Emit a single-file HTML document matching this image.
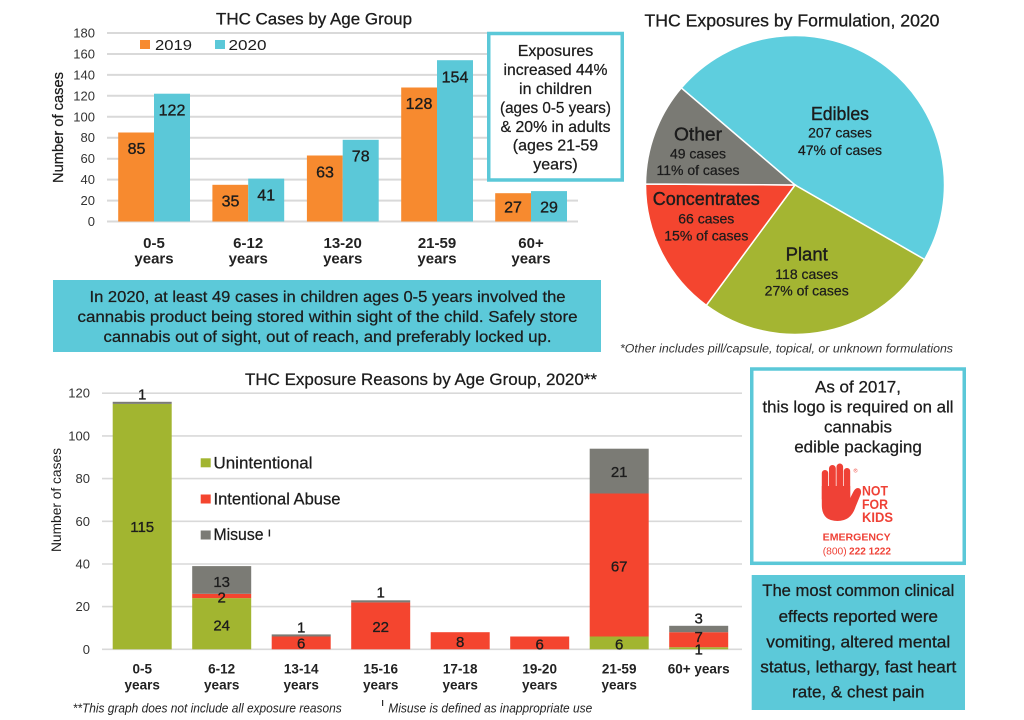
<!DOCTYPE html>
<html><head><meta charset="utf-8"><style>
html,body{margin:0;padding:0;background:#fff;}
svg{display:block;}
text{font-family:"Liberation Sans",sans-serif;}
</style></head><body>
<svg width="1024" height="720" viewBox="0 0 1024 720" xmlns="http://www.w3.org/2000/svg" fill="#1c1c1c">
<rect width="1024" height="720" fill="#fff"/>

<!-- ============ TOP CHART ============ -->
<text x="314" y="24.5" font-size="17" text-anchor="middle" textLength="196" lengthAdjust="spacingAndGlyphs" stroke="#1c1c1c" stroke-width="0.3">THC Cases by Age Group</text>
<g stroke="#d9d9d9" stroke-width="2">
<line x1="107" y1="33" x2="578" y2="33"/>
<line x1="107" y1="54" x2="578" y2="54"/>
<line x1="107" y1="74.9" x2="578" y2="74.9"/>
<line x1="107" y1="95.8" x2="578" y2="95.8"/>
<line x1="107" y1="116.8" x2="578" y2="116.8"/>
<line x1="107" y1="137.7" x2="578" y2="137.7"/>
<line x1="107" y1="158.7" x2="578" y2="158.7"/>
<line x1="107" y1="179.6" x2="578" y2="179.6"/>
<line x1="107" y1="200.6" x2="578" y2="200.6"/>
<line x1="107" y1="221.5" x2="578" y2="221.5"/>
</g>
<g font-size="13" text-anchor="end" fill="#333">
<text x="95" y="37.5">180</text>
<text x="95" y="58.5">160</text>
<text x="95" y="79.4">140</text>
<text x="95" y="100.3">120</text>
<text x="95" y="121.3">100</text>
<text x="95" y="142.2">80</text>
<text x="95" y="163.2">60</text>
<text x="95" y="184.1">40</text>
<text x="95" y="205.1">20</text>
<text x="95" y="226">0</text>
</g>
<text transform="translate(63,127.5) rotate(-90)" font-size="15" text-anchor="middle" textLength="111" lengthAdjust="spacingAndGlyphs" stroke="#1c1c1c" stroke-width="0.25">Number of cases</text>

<!-- legend -->
<rect x="140" y="40" width="10" height="9" fill="#f78a2f"/>
<text x="155" y="50" font-size="15" textLength="37" lengthAdjust="spacingAndGlyphs">2019</text>
<rect x="215" y="40" width="10" height="9" fill="#5bc8d8"/>
<text x="228.5" y="50" font-size="15" textLength="38" lengthAdjust="spacingAndGlyphs">2020</text>

<!-- bars -->
<g fill="#f78a2f">
<rect x="118.2" y="132.5" width="35.8" height="89"/>
<rect x="212.4" y="184.8" width="35.8" height="36.7"/>
<rect x="306.9" y="155.5" width="35.8" height="66"/>
<rect x="401.2" y="87.5" width="35.8" height="134"/>
<rect x="495.2" y="193.2" width="35.8" height="28.3"/>
</g>
<g fill="#5bc8d8">
<rect x="154" y="93.7" width="36" height="127.8"/>
<rect x="248.2" y="178.6" width="36" height="42.9"/>
<rect x="342.7" y="139.8" width="36" height="81.7"/>
<rect x="437" y="60.2" width="36" height="161.3"/>
<rect x="531" y="191.1" width="36" height="30.4"/>
</g>
<g font-size="16" text-anchor="middle" stroke="#1c1c1c" stroke-width="0.35">
<text x="136.5" y="154">85</text>
<text x="172" y="115.5">122</text>
<text x="230.5" y="206.5">35</text>
<text x="266.2" y="200.5">41</text>
<text x="325" y="177.5">63</text>
<text x="360.7" y="161.5">78</text>
<text x="419" y="109">128</text>
<text x="455" y="82.5">154</text>
<text x="513" y="212.5">27</text>
<text x="549" y="212.5">29</text>
</g>
<g font-size="15" font-weight="bold" text-anchor="middle" fill="#222">
<text x="154" y="248">0-5</text><text x="154" y="263.5">years</text>
<text x="248.2" y="248">6-12</text><text x="248.2" y="263.5">years</text>
<text x="342.7" y="248">13-20</text><text x="342.7" y="263.5">years</text>
<text x="437" y="248">21-59</text><text x="437" y="263.5">years</text>
<text x="531" y="248">60+</text><text x="531" y="263.5">years</text>
</g>

<!-- exposures box -->
<rect x="488.75" y="33.5" width="133.5" height="146.5" fill="#fff" stroke="#5bc8d8" stroke-width="3.5"/>
<g font-size="16" text-anchor="middle" stroke="#1c1c1c" stroke-width="0.25">
<text x="555.5" y="56.2">Exposures</text>
<text x="555.5" y="75.1" textLength="104" lengthAdjust="spacingAndGlyphs">increased 44%</text>
<text x="555.5" y="94">in children</text>
<text x="555.5" y="112.9" textLength="111" lengthAdjust="spacingAndGlyphs">(ages 0-5 years)</text>
<text x="555.5" y="131.8" textLength="110" lengthAdjust="spacingAndGlyphs">&amp; 20% in adults</text>
<text x="555.5" y="150.7">(ages 21-59</text>
<text x="555.5" y="169.6">years)</text>
</g>

<!-- note box -->
<rect x="53" y="280" width="548" height="72" fill="#5cc9d9"/>
<g font-size="16" text-anchor="middle" stroke="#1c1c1c" stroke-width="0.25">
<text x="327.5" y="302" textLength="476" lengthAdjust="spacingAndGlyphs">In 2020, at least 49 cases in children ages 0-5 years involved the</text>
<text x="327.5" y="322" textLength="500" lengthAdjust="spacingAndGlyphs">cannabis product being stored within sight of the child. Safely store</text>
<text x="327.5" y="342" textLength="448" lengthAdjust="spacingAndGlyphs">cannabis out of sight, out of reach, and preferably locked up.</text>
</g>

<!-- ============ PIE ============ -->
<text x="792" y="26.7" font-size="17.6" text-anchor="middle" textLength="295" lengthAdjust="spacingAndGlyphs" stroke="#1c1c1c" stroke-width="0.3">THC Exposures by Formulation, 2020</text>
<g stroke="#fff" stroke-width="1.5">
<path d="M795,185 L681.3,87.9 A149.5,149.5 0 0 1 924.6,259.5 Z" fill="#5ecede"/>
<path d="M795,185 L924.6,259.5 A149.5,149.5 0 0 1 706.3,305.3 Z" fill="#a4b532"/>
<path d="M795,185 L706.3,305.3 A149.5,149.5 0 0 1 645.5,184 Z" fill="#f4452f"/>
<path d="M795,185 L645.5,184 A149.5,149.5 0 0 1 681.3,87.9 Z" fill="#7a7a74"/>
</g>
<g text-anchor="middle" stroke="#1c1c1c" stroke-width="0.25">
<text x="840" y="120" font-size="18.5" textLength="58" lengthAdjust="spacingAndGlyphs" stroke-width="0.4">Edibles</text>
<text x="840" y="137.7" font-size="14">207 cases</text>
<text x="840" y="155" font-size="14">47% of cases</text>
<text x="698" y="140.7" font-size="18" textLength="48" lengthAdjust="spacingAndGlyphs" stroke-width="0.4">Other</text>
<text x="698" y="158.3" font-size="14">49 cases</text>
<text x="698" y="175" font-size="14">11% of cases</text>
<text x="706.3" y="205" font-size="18" textLength="107" lengthAdjust="spacingAndGlyphs" stroke-width="0.4">Concentrates</text>
<text x="706.3" y="223.3" font-size="14">66 cases</text>
<text x="706.3" y="240.7" font-size="14">15% of cases</text>
<text x="806.7" y="260.7" font-size="18.5" stroke-width="0.4">Plant</text>
<text x="806.7" y="279" font-size="14">118 cases</text>
<text x="806.7" y="295.7" font-size="14">27% of cases</text>
</g>
<text x="620" y="352.5" font-size="12" font-style="italic" textLength="333" lengthAdjust="spacingAndGlyphs" fill="#333">*Other includes pill/capsule, topical, or unknown formulations</text>

<!-- ============ BOTTOM CHART ============ -->
<text x="421" y="385" font-size="17" text-anchor="middle" textLength="352" lengthAdjust="spacingAndGlyphs" stroke="#1c1c1c" stroke-width="0.25">THC Exposure Reasons by Age Group, 2020**</text>
<g stroke="#d9d9d9" stroke-width="1.6">
<line x1="102" y1="393.2" x2="742" y2="393.2"/>
<line x1="102" y1="435.9" x2="742" y2="435.9"/>
<line x1="102" y1="478.6" x2="742" y2="478.6"/>
<line x1="102" y1="521.3" x2="742" y2="521.3"/>
<line x1="102" y1="564" x2="742" y2="564"/>
<line x1="102" y1="606.6" x2="742" y2="606.6"/>
<line x1="102" y1="649.3" x2="742" y2="649.3"/>
</g>
<g font-size="13" text-anchor="end" fill="#333">
<text x="90" y="397.7">120</text>
<text x="90" y="440.4">100</text>
<text x="90" y="483.1">80</text>
<text x="90" y="525.8">60</text>
<text x="90" y="568.5">40</text>
<text x="90" y="611.1">20</text>
<text x="90" y="653.8">0</text>
</g>
<text transform="translate(61,500) rotate(-90)" font-size="14" text-anchor="middle" textLength="104" lengthAdjust="spacingAndGlyphs">Number of cases</text>

<!-- stacked bars -->
<rect x="112.7" y="403.9" width="59" height="245.4" fill="#a2b530"/>
<rect x="112.7" y="401.8" width="59" height="2.1" fill="#7b7b75"/>
<rect x="192.2" y="598.1" width="59" height="51.2" fill="#a2b530"/>
<rect x="192.2" y="593.8" width="59" height="4.3" fill="#f4452f"/>
<rect x="192.2" y="566.1" width="59" height="27.7" fill="#7b7b75"/>
<rect x="271.7" y="636.5" width="59" height="12.8" fill="#f4452f"/>
<rect x="271.7" y="634.4" width="59" height="2.1" fill="#7b7b75"/>
<rect x="351.2" y="602.4" width="59" height="46.9" fill="#f4452f"/>
<rect x="351.2" y="600.3" width="59" height="2.1" fill="#7b7b75"/>
<rect x="430.7" y="632.2" width="59" height="17.1" fill="#f4452f"/>
<rect x="510.2" y="636.5" width="59" height="12.8" fill="#f4452f"/>
<rect x="589.7" y="636.5" width="59" height="12.8" fill="#a2b530"/>
<rect x="589.7" y="493.5" width="59" height="143" fill="#f4452f"/>
<rect x="589.7" y="448.7" width="59" height="44.8" fill="#7b7b75"/>
<rect x="669.2" y="647.2" width="59" height="2.1" fill="#a2b530"/>
<rect x="669.2" y="632.2" width="59" height="15" fill="#f4452f"/>
<rect x="669.2" y="625.8" width="59" height="6.4" fill="#7b7b75"/>

<g font-size="15" text-anchor="middle" stroke="#1c1c1c" stroke-width="0.3">
<text x="142.2" y="399.3">1</text>
<text x="142.2" y="532">115</text>
<text x="221.7" y="587">13</text>
<text x="221.7" y="602.3">2</text>
<text x="221.7" y="630.3">24</text>
<text x="301.2" y="632.3">1</text>
<text x="301.2" y="648.6">6</text>
<text x="380.7" y="597.6">1</text>
<text x="380.7" y="632">22</text>
<text x="460.2" y="647">8</text>
<text x="539.7" y="649.6">6</text>
<text x="619.2" y="477">21</text>
<text x="619.2" y="571.3">67</text>
<text x="619.2" y="649.6">6</text>
<text x="698.7" y="623.6">3</text>
<text x="698.7" y="642">7</text>
<text x="698.7" y="654.6">1</text>
</g>

<!-- legend -->
<rect x="200.7" y="458.3" width="10" height="9" fill="#a2b530"/>
<text x="213.5" y="468.3" font-size="17" textLength="99" lengthAdjust="spacingAndGlyphs" stroke="#1c1c1c" stroke-width="0.25">Unintentional</text>
<rect x="200.7" y="494.5" width="10" height="9" fill="#f4452f"/>
<text x="213.5" y="504.3" font-size="17" textLength="127" lengthAdjust="spacingAndGlyphs" stroke="#1c1c1c" stroke-width="0.25">Intentional Abuse</text>
<rect x="200.7" y="530.5" width="10" height="9" fill="#7b7b75"/>
<text x="213.5" y="540" font-size="17" textLength="50" lengthAdjust="spacingAndGlyphs" stroke="#1c1c1c" stroke-width="0.25">Misuse</text>
<text x="268" y="536.5" font-size="10" font-weight="bold">I</text>

<g font-size="13.5" font-weight="bold" text-anchor="middle" fill="#222">
<text x="142.2" y="673.3">0-5</text><text x="142.2" y="689.5">years</text>
<text x="221.7" y="673.3">6-12</text><text x="221.7" y="689.5">years</text>
<text x="301.2" y="673.3">13-14</text><text x="301.2" y="689.5">years</text>
<text x="380.7" y="673.3">15-16</text><text x="380.7" y="689.5">years</text>
<text x="460.2" y="673.3">17-18</text><text x="460.2" y="689.5">years</text>
<text x="539.7" y="673.3">19-20</text><text x="539.7" y="689.5">years</text>
<text x="619.2" y="673.3">21-59</text><text x="619.2" y="689.5">years</text>
<text x="698.7" y="673.3">60+ years</text>
</g>

<text x="72.7" y="712.5" font-size="12.5" font-style="italic" textLength="269" lengthAdjust="spacingAndGlyphs" fill="#222">**This graph does not include all exposure reasons</text>
<text x="381.5" y="706" font-size="8" font-weight="bold" fill="#222">I</text>
<text x="388.3" y="712.5" font-size="12.5" font-style="italic" textLength="204" lengthAdjust="spacingAndGlyphs" fill="#222">Misuse is defined as inappropriate use</text>

<!-- ============ RIGHT BOXES ============ -->
<rect x="751.75" y="369" width="212.5" height="194.3" fill="#fff" stroke="#5bc8d8" stroke-width="3.5"/>
<g font-size="17" text-anchor="middle" stroke="#1c1c1c" stroke-width="0.25">
<text x="858" y="392.3">As of 2017,</text>
<text x="858" y="412.3" textLength="191" lengthAdjust="spacingAndGlyphs">this logo is required on all</text>
<text x="858" y="432.3">cannabis</text>
<text x="858" y="452.5">edible packaging</text>
</g>

<!-- NOT FOR KIDS logo -->
<g fill="#ef4136">
<rect x="821.8" y="470" width="6.4" height="32" rx="3.2"/>
<rect x="829" y="465" width="6.8" height="36" rx="3.4"/>
<rect x="836.5" y="463.5" width="6.6" height="36" rx="3.3"/>
<rect x="843.8" y="468" width="6.4" height="32" rx="3.2"/>
<path d="M821.8,486 L821.8,505 Q821.8,521 837.5,521 Q851,521 855.5,507 L860.8,494 Q862,488.5 858,488 Q855,488 853,492.5 L850.2,498 L850.2,486 Z"/>
</g>
<text x="853.5" y="472.5" font-size="5.5" fill="#ef4136">®</text>
<g font-size="14" font-weight="bold" fill="#ef4136">
<text x="862" y="495.5" textLength="26" lengthAdjust="spacingAndGlyphs">NOT</text>
<text x="862" y="508.8" textLength="26" lengthAdjust="spacingAndGlyphs">FOR</text>
<text x="862" y="522" textLength="31" lengthAdjust="spacingAndGlyphs">KIDS</text>
</g>
<text x="822.7" y="540.3" font-size="10.5" font-weight="bold" textLength="68" lengthAdjust="spacingAndGlyphs" fill="#ef4136">EMERGENCY</text>
<text x="822.7" y="554.4" font-size="10.5" textLength="24" lengthAdjust="spacingAndGlyphs" fill="#ef4136">(800)</text>
<text x="849" y="554.4" font-size="10.5" font-weight="bold" textLength="42" lengthAdjust="spacingAndGlyphs" fill="#ef4136">222 1222</text>

<rect x="751.7" y="575" width="213.3" height="135" fill="#5cc9d9"/>
<g font-size="17" text-anchor="middle" stroke="#1c1c1c" stroke-width="0.3">
<text x="858.3" y="596" textLength="192" lengthAdjust="spacingAndGlyphs">The most common clinical</text>
<text x="858.3" y="622">effects reported were</text>
<text x="858.3" y="647.7" textLength="184" lengthAdjust="spacingAndGlyphs">vomiting, altered mental</text>
<text x="858.3" y="672.7" textLength="196" lengthAdjust="spacingAndGlyphs">status, lethargy, fast heart</text>
<text x="858.3" y="697.7">rate, &amp; chest pain</text>
</g>
</svg>
</body></html>
